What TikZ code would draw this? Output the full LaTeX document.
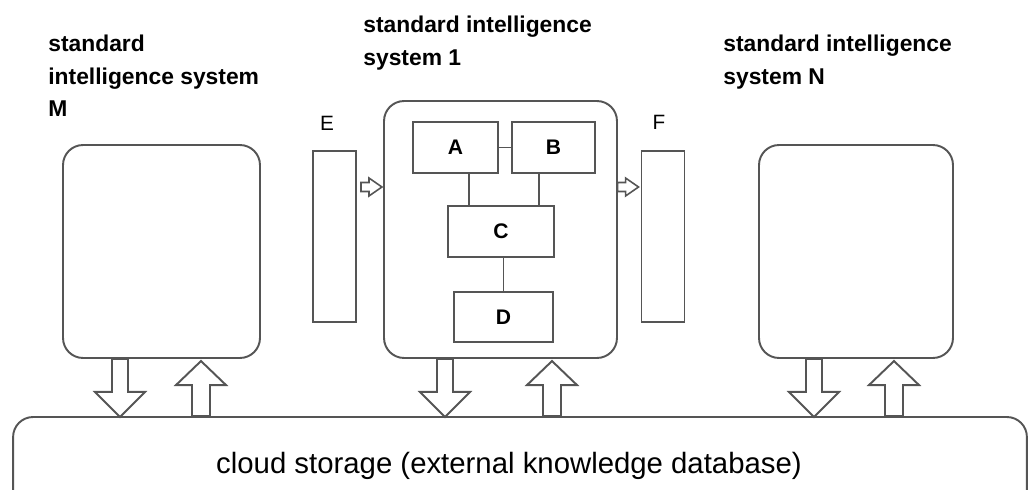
\documentclass[tikz,border=0pt]{standalone}
\usepackage{fontspec}
\setmainfont{Liberation Sans}
\usetikzlibrary{calc}
\definecolor{linegray}{RGB}{85,85,85}
\tikzset{
  link/.style={draw=linegray, line width=1.1pt},
  sysbox/.style={link, rounded corners=0.4cm, inner sep=0pt},
  unitbox/.style={link, inner sep=0pt, font=\bfseries\fontsize{12}{14}\selectfont},
  barbox/.style={link, inner sep=0pt, minimum width=0.86cm, minimum height=3.42cm},
  systitle/.style={anchor=north west, align=left, inner sep=0pt, font=\bfseries\fontsize{13}{18.5}\selectfont},
  barlabel/.style={inner sep=0pt, font=\fontsize{11.8}{14}\selectfont},
  bigdown/.pic={\draw[link, fill=white] (-8,0) -- (-8,33) -- (-25,33) -- (0,58) -- (25,33) -- (8,33) -- (8,0) -- cycle;},
  bigup/.pic={\draw[link, fill=white] (-9,0) -- (-9,-31) -- (-25,-31) -- (0,-55) -- (25,-31) -- (9,-31) -- (9,0) -- cycle;},
  smallright/.pic={\draw[link, line width=0.9pt, fill=white] (0,-4.5) -- (8,-4.5) -- (8,-9) -- (21,0) -- (8,9) -- (8,4.5) -- (0,4.5) -- cycle;}
}

\begin{document}
\begin{tikzpicture}[x=0.02cm, y=-0.02cm]
\useasboundingbox (0,0) rectangle (1029,490);
\clip (0,0) rectangle (1029,490);
% the three systems and the cloud
\node[sysbox, minimum width=3.94cm, minimum height=4.26cm] (sysM) at (161.5,251.5) {};
\node[sysbox, minimum width=4.66cm, minimum height=5.14cm] (sys1) at (500.5,229.5) {};
\node[sysbox, minimum width=3.88cm, minimum height=4.26cm] (sysN) at (856,251.5) {};
\node[sysbox, minimum width=20.28cm, minimum height=1.96cm] (cloud) at (520,466) {};
\node[inner sep=0pt, font=\fontsize{16.7}{20}\selectfont] (cloudlbl) at (509,466) {cloud storage (external knowledge database)};
\node[systitle] (titleM) at (48,35) {standard\\intelligence system\\M};
\node[systitle] (title1) at (363,16) {standard intelligence\\system 1};
\node[systitle] (titleN) at (723,35) {standard intelligence\\system N};
% side bars
\node[barbox] (E) at (334.5,236.5) {};
\node[barbox] (F) at (663,236.5) {};
\node[barlabel] (Elbl) at (327,123) {E};
\node[barlabel] (Flbl) at (659,122) {F};
% inner units
\node[unitbox, minimum width=1.70cm, minimum height=1.02cm] (A) at (455.5,147.5) {A};
\node[unitbox, minimum width=1.66cm, minimum height=1.02cm] (B) at (553.5,147.5) {B};
\node[unitbox, minimum width=2.12cm, minimum height=1.02cm] (C) at (501,231.5) {C};
\node[unitbox, minimum width=1.98cm, minimum height=1.00cm] (D) at (503.5,317) {D};
\coordinate (ac) at ($(A.south)+(13.5,0)$);
\coordinate (bc) at ($(B.south)+(-14.5,0)$);
\draw[link] (A.east) -- (B.west);
\draw[link] (ac) -- (ac |- C.north);
\draw[link] (bc) -- (bc |- C.north);
\draw[link] (D.north |- C.south) -- (D.north);
% arrows
\pic at ($(E.east)+(4,-49.5)$) {smallright};
\pic at ($(F.west)+(-23,-49.5)$) {smallright};
\pic at ($(sysM.south)+(-41.5,0)$) {bigdown};
\pic at ($(sysM.south |- cloud.north)+(39.5,0)$) {bigup};
\pic at ($(sys1.south)+(-55.5,0)$) {bigdown};
\pic at ($(sys1.south |- cloud.north)+(51.5,0)$) {bigup};
\pic at ($(sysN.south)+(-42,0)$) {bigdown};
\pic at ($(sysN.south |- cloud.north)+(38,0)$) {bigup};
\end{tikzpicture}
\end{document}
